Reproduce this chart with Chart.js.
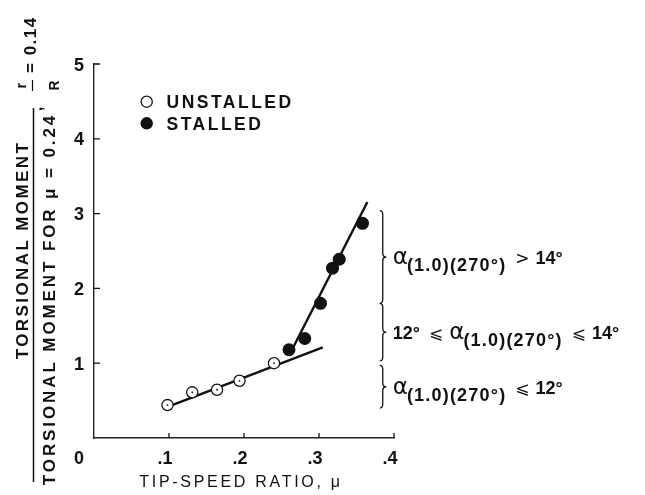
<!DOCTYPE html>
<html>
<head>
<meta charset="utf-8">
<script src="https://cdn.jsdelivr.net/npm/chart.js@4.4.1/dist/chart.umd.min.js"></script>
<style>
  html, body { margin: 0; padding: 0; background: #fff; }
  #wrap { width: 645px; height: 495px; }
</style>
</head>
<body>
<div id="wrap"><canvas id="torsionChart" width="645" height="495"></canvas></div>
<script>
// measured points
const unstalledMu = [0.098, 0.131, 0.164, 0.194, 0.24];
const unstalledMoment = [0.44, 0.61, 0.645, 0.765, 1.0];
const stalledMu = [0.26, 0.281, 0.302, 0.318, 0.327, 0.358];
const stalledMoment = [1.18, 1.33, 1.80, 2.27, 2.39, 2.87];

// faired lines through each group
const unstalledFitMu = [0.099, 0.305];
const unstalledFitMoment = [0.42, 1.21];
const stalledFitMu = [0.265, 0.3645];
const stalledFitMoment = [1.2, 3.155];

const xTicks = [0.1, 0.2, 0.3, 0.4];
const xTickLabels = ['.1', '.2', '.3', '.4'];
const yTicks = [1, 2, 3, 4, 5];
const yTickLabels = ['1', '2', '3', '4', '5'];

// stall regimes bracketed on the right
const braceMu = 0.385;
const braceRanges = [[1.80, 3.04], [1.03, 1.80], [0.40, 0.97]];
const regimeLabels = [
  [['α', 'alpha'], ['(1.0)(270°)', 'sub'], ['>', 'rel'], ['14°', 'main']],
  [['12°', 'main'], ['⩽', 'rel'], ['α', 'alpha'], ['(1.0)(270°)', 'sub'], ['⩽', 'rel'], ['14°', 'main']],
  [['α', 'alpha'], ['(1.0)(270°)', 'sub'], ['⩽', 'rel'], ['12°', 'main']]
];

const ink = '#111';
const sans = '"Liberation Sans", Arial, sans-serif';

const pairs = (xs, ys) => xs.map((x, i) => ({ x, y: ys[i] }));

function rotText(ctx, text, x, y, font, align, spacing) {
  ctx.save();
  ctx.translate(x, y);
  ctx.rotate(-Math.PI / 2);
  ctx.font = font;
  ctx.letterSpacing = spacing || '0px';
  ctx.textAlign = align;
  ctx.textBaseline = 'alphabetic';
  ctx.fillText(text, 0, 0);
  ctx.restore();
}

function brace(ctx, x, yTop, yBot) {
  const w = 4;
  const ym = (yTop + yBot) / 2;
  ctx.beginPath();
  ctx.moveTo(x - 3, yTop);
  ctx.quadraticCurveTo(x, yTop, x, yTop + w);
  ctx.lineTo(x, ym - w);
  ctx.quadraticCurveTo(x, ym, x + 3.5, ym);
  ctx.quadraticCurveTo(x, ym, x, ym + w);
  ctx.lineTo(x, yBot - w);
  ctx.quadraticCurveTo(x, yBot, x - 3, yBot);
  ctx.stroke();
}

const runFonts = {
  alpha: { font: '23px "DejaVu Sans", sans-serif', dy: 0, ls: '0px' },
  sub: { font: 'bold 18px ' + sans, dy: 7, ls: '1.2px' },
  rel: { font: '17px "DejaVu Sans", sans-serif', dy: 0, ls: '0px' },
  main: { font: 'bold 18px ' + sans, dy: 0, ls: '0px' }
};

const decorations = {
  id: 'decorations',
  afterDatasetsDraw(chart) {
    const { ctx, scales: { x, y }, chartArea: area } = chart;
    ctx.save();
    ctx.fillStyle = ink;
    ctx.strokeStyle = ink;

    // centre dots of the open circles
    chart.getDatasetMeta(0).data.forEach(pt => {
      ctx.beginPath();
      ctx.arc(pt.x, pt.y, 0.9, 0, Math.PI * 2);
      ctx.fill();
    });

    // inward ticks
    ctx.lineWidth = 1.3;
    ctx.beginPath();
    xTicks.forEach(v => {
      const px = x.getPixelForValue(v);
      ctx.moveTo(px, area.bottom);
      ctx.lineTo(px, area.bottom - 5);
    });
    yTicks.forEach(v => {
      const py = y.getPixelForValue(v);
      ctx.moveTo(area.left, py);
      ctx.lineTo(area.left + 6, py);
    });
    ctx.stroke();

    // tick labels
    ctx.font = 'bold 18px ' + sans;
    ctx.textBaseline = 'alphabetic';
    ctx.textAlign = 'center';
    xTicks.forEach((v, i) => ctx.fillText(xTickLabels[i], x.getPixelForValue(v) - 4, area.bottom + 25.5));
    ctx.fillText('0', area.left - 15, area.bottom + 25.5);
    ctx.textAlign = 'right';
    yTicks.forEach((v, i) => ctx.fillText(yTickLabels[i], area.left - 10, y.getPixelForValue(v) + 6.5));

    // x title
    ctx.font = '16px ' + sans;
    ctx.letterSpacing = '2.7px';
    ctx.textAlign = 'center';
    ctx.fillText('TIP-SPEED RATIO, μ', 241, 487);
    ctx.letterSpacing = '0px';

    // y title as a fraction, with r/R note
    rotText(ctx, 'TORSIONAL MOMENT', 28, 250, 'bold 17px ' + sans, 'center', '2.4px');
    ctx.lineWidth = 1.5;
    ctx.beginPath();
    ctx.moveTo(33.5, 108);
    ctx.lineTo(33.5, 482);
    ctx.stroke();
    rotText(ctx, 'TORSIONAL MOMENT FOR μ = 0.24', 55, 299, 'bold 17px ' + sans, 'center', '2.9px');
    rotText(ctx, ',', 42, 109, 'bold 17px ' + sans, 'center');
    rotText(ctx, 'r', 26, 85.5, 'bold 15px ' + sans, 'center');
    ctx.lineWidth = 1.2;
    ctx.beginPath();
    ctx.moveTo(32.5, 80);
    ctx.lineTo(32.5, 91);
    ctx.stroke();
    rotText(ctx, 'R', 59, 85.5, 'bold 14px ' + sans, 'center');
    rotText(ctx, '= 0.14', 36, 73, 'bold 17px ' + sans, 'left', '1.5px');

    // legend
    ctx.lineWidth = 1.3;
    ctx.beginPath();
    ctx.arc(146.7, 101.7, 5.6, 0, Math.PI * 2);
    ctx.stroke();
    ctx.beginPath();
    ctx.arc(146.7, 123.3, 6.2, 0, Math.PI * 2);
    ctx.fill();
    ctx.font = 'bold 17.5px ' + sans;
    ctx.letterSpacing = '2.5px';
    ctx.textAlign = 'left';
    ctx.fillText('UNSTALLED', 166.5, 108);
    ctx.fillText('STALLED', 166.5, 130);
    ctx.letterSpacing = '0px';

    // regime braces and labels
    const bx = x.getPixelForValue(braceMu);
    ctx.lineWidth = 1.3;
    braceRanges.forEach(([lo, hi], i) => {
      const yTop = y.getPixelForValue(hi);
      const yBot = y.getPixelForValue(lo);
      brace(ctx, bx, yTop, yBot);
      const base = (yTop + yBot) / 2 + 7;
      let cx = bx + 10;
      let prev = null;
      regimeLabels[i].forEach(([text, kind]) => {
        if (kind === 'rel') cx += 9;
        else if (prev === 'rel') cx += 6;
        else if (prev === 'alpha') cx -= 1;
        const f = runFonts[kind];
        ctx.font = f.font;
        ctx.letterSpacing = f.ls;
        ctx.fillText(text, cx, base + f.dy);
        cx += ctx.measureText(text).width;
        prev = kind;
      });
      ctx.letterSpacing = '0px';
    });

    ctx.restore();
  }
};

new Chart(document.getElementById('torsionChart').getContext('2d'), {
  type: 'scatter',
  data: {
    datasets: [
      {
        label: 'UNSTALLED',
        data: pairs(unstalledMu, unstalledMoment),
        pointRadius: 5.6,
        pointBackgroundColor: '#fff',
        pointBorderColor: ink,
        pointBorderWidth: 1.3,
        order: 0
      },
      {
        label: 'STALLED',
        data: pairs(stalledMu, stalledMoment),
        pointRadius: 6.5,
        pointBackgroundColor: ink,
        pointBorderColor: ink,
        pointBorderWidth: 0,
        order: 0
      },
      {
        label: 'unstalled fairing',
        data: pairs(unstalledFitMu, unstalledFitMoment),
        showLine: true,
        borderColor: ink,
        borderWidth: 2.4,
        pointRadius: 0,
        order: 1
      },
      {
        label: 'stalled fairing',
        data: pairs(stalledFitMu, stalledFitMoment),
        showLine: true,
        borderColor: ink,
        borderWidth: 2.4,
        pointRadius: 0,
        order: 1
      }
    ]
  },
  options: {
    responsive: false,
    animation: false,
    devicePixelRatio: 1,
    events: [],
    layout: { padding: { top: 64, right: 251, bottom: 0, left: 0 }, autoPadding: false },
    plugins: { legend: { display: false }, tooltip: { enabled: false } },
    scales: {
      x: {
        type: 'linear', min: 0, max: 0.4,
        ticks: { display: false },
        grid: { display: false },
        border: { color: '#222', width: 1.4 },
        afterFit: s => { s.height = 57; }
      },
      y: {
        type: 'linear', min: 0, max: 5,
        ticks: { display: false },
        grid: { display: false },
        border: { color: '#222', width: 1.4 },
        afterFit: s => { s.width = 94; }
      }
    }
  },
  plugins: [decorations]
});
</script>
</body>
</html>
